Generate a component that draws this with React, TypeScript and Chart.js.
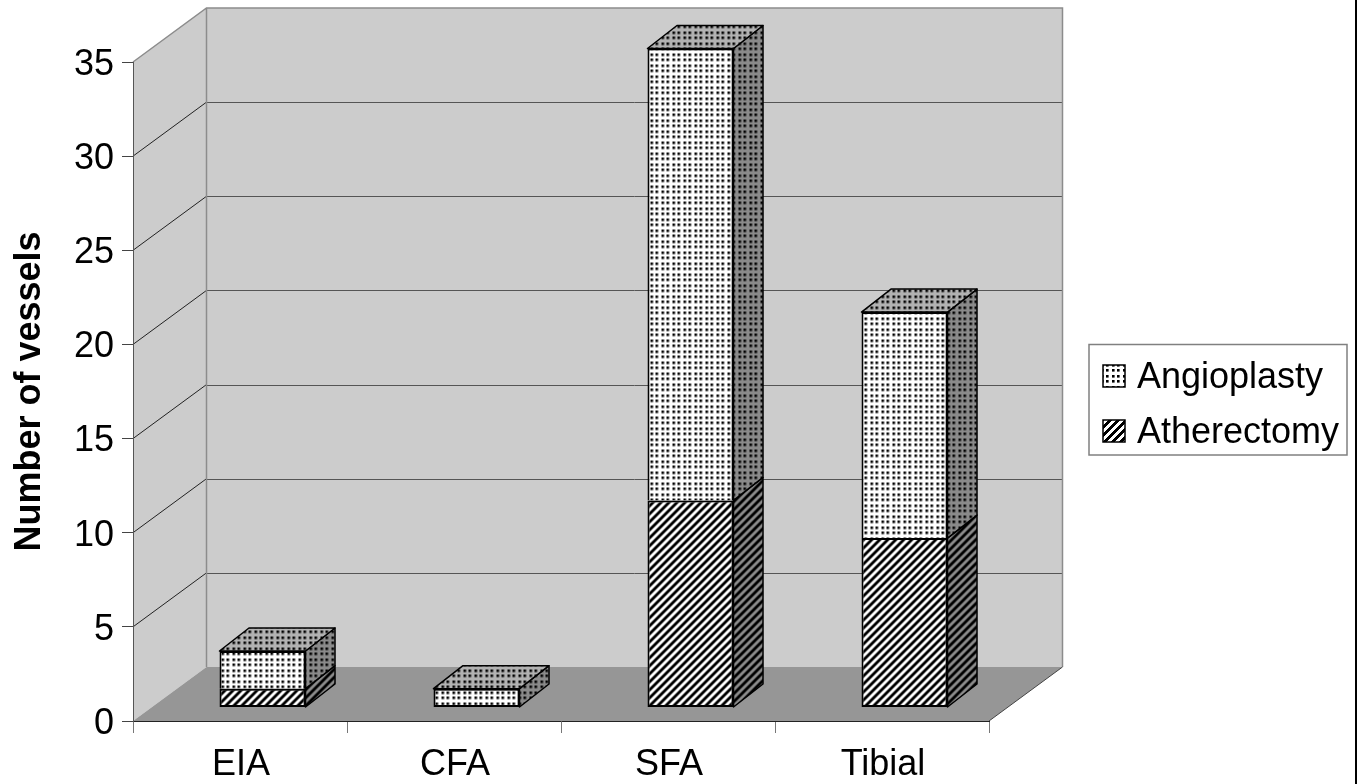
import React, { useEffect, useRef } from "react";
import { Chart, registerables } from "chart.js";

Chart.register(...registerables);

const categories = ["EIA", "CFA", "SFA", "Tibial"];
const atherectomy = [1, 0, 11, 9];
const angioplasty = [2, 1, 24, 12];
const seriesNames = ["Atherectomy", "Angioplasty"];
const legendOrder = ["Angioplasty", "Atherectomy"];
const axisTitle = "Number of vessels";

const FONT = '"Liberation Sans", Arial, sans-serif';
const WIDTH = 1358;
const HEIGHT = 784;

// Receding wall offset and the depth of each box.
const WALL_DX = 73.5;
const WALL_DY = -54;
const BOX_DX = 29.5;
const BOX_DY = -23;
// Boxes sit partway into the floor.
const SHIFT_X = 22.5;
const SHIFT_Y = -13.5;

function dotPattern(bg: string): CanvasPattern {
  const tile = document.createElement("canvas");
  tile.width = 11;
  tile.height = 11;
  const c = tile.getContext("2d")!;
  c.fillStyle = bg;
  c.fillRect(0, 0, 11, 11);
  c.fillStyle = "#000";
  for (const y of [1, 6]) {
    for (const x of [1, 6]) c.fillRect(x, y, 2.6, 2.6);
  }
  return c.createPattern(tile, "repeat")!;
}

function hatchPattern(bg: string): CanvasPattern {
  const tile = document.createElement("canvas");
  tile.width = 8;
  tile.height = 8;
  const c = tile.getContext("2d")!;
  c.fillStyle = bg;
  c.fillRect(0, 0, 8, 8);
  c.fillStyle = "#000";
  for (let y = 0; y < 8; y++) {
    for (let x = 0; x < 8; x++) {
      if ((x + y) % 8 < 4) c.fillRect(x, y, 1, 1);
    }
  }
  return c.createPattern(tile, "repeat")!;
}

function poly(ctx: CanvasRenderingContext2D, pts: number[][]) {
  ctx.beginPath();
  pts.forEach(([x, y], i) => (i ? ctx.lineTo(x, y) : ctx.moveTo(x, y)));
  ctx.closePath();
}

// Side wall, back wall, floor and the bent gridlines behind the bars.
const wallsPlugin = {
  id: "walls",
  beforeDraw(chart: any) {
    const { ctx, chartArea: a, scales } = chart;
    const { left: l, right: r, top: t, bottom: b } = a;
    ctx.save();
    ctx.fillStyle = "#cccccc";
    poly(ctx, [[l, b], [l + WALL_DX, b + WALL_DY], [l + WALL_DX, t + WALL_DY], [l, t]]);
    ctx.fill();
    poly(ctx, [
      [l + WALL_DX, b + WALL_DY],
      [r + WALL_DX, b + WALL_DY],
      [r + WALL_DX, t + WALL_DY],
      [l + WALL_DX, t + WALL_DY],
    ]);
    ctx.fill();
    ctx.fillStyle = "#969696";
    poly(ctx, [[l, b], [l + WALL_DX, b + WALL_DY], [r + WALL_DX, b + WALL_DY], [r, b]]);
    ctx.fill();

    for (const tick of scales.y.ticks) {
      if (tick.value === 0 || tick.value === 35) continue;
      const y = scales.y.getPixelForValue(tick.value);
      ctx.lineWidth = 1;
      ctx.strokeStyle = "#222";
      ctx.beginPath();
      ctx.moveTo(l, y);
      ctx.lineTo(l + WALL_DX, y + WALL_DY);
      ctx.stroke();
      ctx.strokeStyle = "#555";
      ctx.beginPath();
      ctx.moveTo(l + WALL_DX, Math.round(y + WALL_DY) + 0.5);
      ctx.lineTo(r + WALL_DX, Math.round(y + WALL_DY) + 0.5);
      ctx.stroke();
    }

    ctx.strokeStyle = "#8c8c8c";
    ctx.lineWidth = 1.5;
    ctx.beginPath();
    ctx.moveTo(l, t);
    ctx.lineTo(l + WALL_DX, t + WALL_DY);
    ctx.lineTo(r + WALL_DX, t + WALL_DY);
    ctx.lineTo(r + WALL_DX, b + WALL_DY);
    ctx.moveTo(l + WALL_DX, t + WALL_DY);
    ctx.lineTo(l + WALL_DX, b + WALL_DY);
    ctx.stroke();
    ctx.strokeStyle = "#444";
    ctx.lineWidth = 1;
    ctx.beginPath();
    ctx.moveTo(r + WALL_DX, b + WALL_DY);
    ctx.lineTo(r, b);
    ctx.stroke();
    ctx.restore();
  },
};

// Draws the tops and right-hand sides of the boxes; the bars themselves are the front faces.
const boxPlugin = {
  id: "boxes",
  beforeDatasetsDraw(chart: any) {
    const { ctx } = chart;
    ctx.save();
    ctx.translate(SHIFT_X, SHIFT_Y);
    const sideFills = [hatchPattern("#8a8a8a"), dotPattern("#8a8a8a")];
    const topFill = dotPattern("#b2b2b2");
    ctx.lineWidth = 1.5;
    ctx.strokeStyle = "#000";
    ctx.lineJoin = "round";
    chart.data.datasets.forEach((ds: any, di: number) => {
      chart.getDatasetMeta(di).data.forEach((bar: any, i: number) => {
        if (!ds.data[i]) return;
        const xr = bar.x + bar.width / 2;
        const xl = bar.x - bar.width / 2;
        ctx.fillStyle = sideFills[di];
        poly(ctx, [
          [xr, bar.base],
          [xr + BOX_DX, bar.base + BOX_DY],
          [xr + BOX_DX, bar.y + BOX_DY],
          [xr, bar.y],
        ]);
        ctx.fill();
        ctx.stroke();
        if (di === chart.data.datasets.length - 1) {
          ctx.fillStyle = topFill;
          poly(ctx, [
            [xl, bar.y],
            [xr, bar.y],
            [xr + BOX_DX, bar.y + BOX_DY],
            [xl + BOX_DX, bar.y + BOX_DY],
          ]);
          ctx.fill();
          ctx.stroke();
        }
      });
    });
  },
  afterDatasetsDraw(chart: any) {
    chart.ctx.restore();
  },
};

// Boxed key on the right, and the rule down the right edge of the figure.
const keyPlugin = {
  id: "key",
  afterDraw(chart: any) {
    const { ctx } = chart;
    ctx.save();
    ctx.fillStyle = "#000";
    ctx.fillRect(1355, 0, 2, HEIGHT);
    ctx.strokeStyle = "#808080";
    ctx.lineWidth = 1.5;
    ctx.strokeRect(1089, 344.5, 258, 110.5);
    ctx.font = `36px ${FONT}`;
    ctx.textBaseline = "middle";
    legendOrder.forEach((name, i) => {
      const ds = chart.data.datasets.find((d: any) => d.label === name);
      const y = 376 + i * 55;
      ctx.fillStyle = ds.backgroundColor;
      ctx.fillRect(1103, y - 11, 22, 22);
      ctx.strokeStyle = "#000";
      ctx.lineWidth = 1.5;
      ctx.strokeRect(1103, y - 11, 22, 22);
      ctx.fillStyle = "#000";
      ctx.fillText(name, 1137, y + 2);
    });
    ctx.restore();
  },
};

export default function App() {
  const ref = useRef<HTMLCanvasElement>(null);
  useEffect(() => {
    const chart = new Chart(ref.current!, {
      type: "bar",
      data: {
        labels: categories,
        datasets: [
          {
            label: seriesNames[0],
            data: atherectomy,
            backgroundColor: hatchPattern("#ffffff"),
            borderColor: "#000",
            borderWidth: 2,
            borderSkipped: false,
            clip: false,
          },
          {
            label: seriesNames[1],
            data: angioplasty,
            backgroundColor: dotPattern("#ffffff"),
            borderColor: "#000",
            borderWidth: 2,
            // The lower segment's top edge already closes this face where one exists.
            borderSkipped: (c: any) => (atherectomy[c.dataIndex] ? "bottom" : false),
            clip: false,
          },
        ] as any,
      },
      options: {
        responsive: false,
        animation: false,
        layout: { padding: { top: 62, right: WIDTH - 989, left: 0, bottom: 0 } },
        plugins: { legend: { display: false }, tooltip: { enabled: false } },
        datasets: { bar: { categoryPercentage: 1, barPercentage: 0.402 } },
        scales: {
          x: {
            stacked: true,
            afterFit(s: any) {
              s.height = HEIGHT - 721;
            },
            grid: { drawOnChartArea: false, tickLength: 12, color: "#777" },
            border: { color: "#222", width: 1 },
            ticks: { color: "#000", font: { family: FONT, size: 36 }, padding: 10, maxRotation: 0, labelOffset: 1 },
          },
          y: {
            stacked: true,
            min: 0,
            max: 35,
            afterFit(s: any) {
              s.width = 133;
            },
            grid: { drawOnChartArea: false, tickLength: 11, color: "#444" },
            border: { color: "#555", width: 1 },
            ticks: { stepSize: 5, color: "#000", font: { family: FONT, size: 36 }, padding: 8, labelOffset: 3 },
            title: {
              display: true,
              text: axisTitle,
              color: "#000",
              font: { family: FONT, size: 36, weight: "bold" },
              padding: { top: 8, bottom: 0 },
            },
          },
        },
      } as any,
      plugins: [wallsPlugin, boxPlugin, keyPlugin],
    });
    return () => chart.destroy();
  }, []);
  return (
    <div style={{ position: "fixed", left: 0, top: 0, width: WIDTH, height: HEIGHT, background: "#fff" }}>
      <canvas ref={ref} width={WIDTH} height={HEIGHT} style={{ display: "block" }} />
    </div>
  );
}
